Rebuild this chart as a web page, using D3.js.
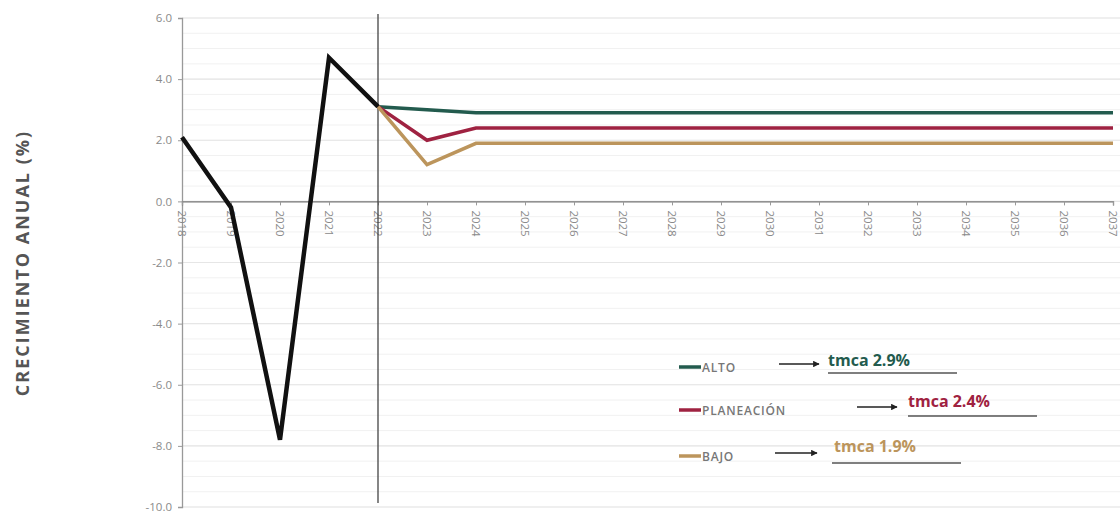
<!DOCTYPE html>
<html><head><meta charset="utf-8">
<script src="https://cdn.jsdelivr.net/npm/d3@7"></script>
<style>body{margin:0;background:#fff}svg{display:block}text{font-family:"Open Sans",Lato,sans-serif}</style>
</head><body><svg id="c" width="1120" height="513"></svg>
<script>
const years = ["2018","2019","2020","2021","2022","2023","2024","2025","2026","2027","2028","2029","2030","2031","2032","2033","2034","2035","2036","2037"];
const historico = [2.1, -0.2, -7.8, 4.7, 3.1];
const histYears = ["2018","2019","2020","2021","2022"];
const escYears = ["2022","2023","2024","2025","2026","2027","2028","2029","2030","2031","2032","2033","2034","2035","2036","2037"];
const alto = [3.1,3.0,2.9,2.9,2.9,2.9,2.9,2.9,2.9,2.9,2.9,2.9,2.9,2.9,2.9,2.9];
const planeacion = [3.1,2.0,2.4,2.4,2.4,2.4,2.4,2.4,2.4,2.4,2.4,2.4,2.4,2.4,2.4,2.4];
const bajo = [3.1,1.2,1.9,1.9,1.9,1.9,1.9,1.9,1.9,1.9,1.9,1.9,1.9,1.9,1.9,1.9];
const yTicks = [6,4,2,0,-2,-4,-6,-8,-10];
const legendNames = ["ALTO","PLANEACIÓN","BAJO"];
const legendTmca = ["tmca 2.9%","tmca 2.4%","tmca 1.9%"];
const colors = ["#235B4E","#9F2241","#BC955C"];

const svg = d3.select("#c");
const x = d3.scalePoint().domain(years).range([182,1113]);
const y = d3.scaleLinear().domain([-10,6]).range([507,18]);

// minor grid
const g = svg.append("g");
g.selectAll("line.minor").data(d3.range(-10,6.01,0.5)).join("line")
  .attr("x1",182).attr("x2",1120).attr("y1",d=>y(d)).attr("y2",d=>y(d))
  .attr("stroke","#f1f1f1").attr("stroke-width",1);
g.selectAll("line.major").data(yTicks).join("line")
  .attr("x1",182).attr("x2",1120).attr("y1",d=>y(d)).attr("y2",d=>y(d))
  .attr("stroke","#e6e6e6").attr("stroke-width",1.2);

// y axis
const fmt = d => d3.format(".1f")(d).replace("−","-");
const ya = svg.append("g").attr("transform","translate(182,0)")
  .call(d3.axisLeft(y).tickValues(yTicks).tickFormat(fmt).tickSize(4));
ya.select(".domain").attr("stroke","#999").attr("stroke-width",1.3);
ya.selectAll(".tick line").attr("stroke","#999");
ya.selectAll("text").attr("fill","#8a8a8a").attr("font-size",11.5).attr("x",-10);

// x axis at 0
const xa = svg.append("g").attr("transform",`translate(0,${y(0)})`)
  .call(d3.axisBottom(x).tickSize(4));
xa.select(".domain").attr("stroke","#777").attr("stroke-width",1.3);
xa.selectAll(".tick line").attr("stroke","#999");
xa.selectAll("text").attr("fill","#8a8a8a").attr("font-size",11.5)
  .attr("transform","rotate(90)").attr("x",9).attr("y",0).attr("dy","0.35em")
  .attr("text-anchor","start");

// vertical divider
svg.append("line").attr("x1",x("2022")).attr("x2",x("2022")).attr("y1",14).attr("y2",503)
  .attr("stroke","#444").attr("stroke-width",1.3);

const line = d3.line().x(d=>x(d[0])).y(d=>y(d[1]));
[alto,planeacion,bajo].forEach((s,i)=>{
  svg.append("path").datum(escYears.map((yr,j)=>[yr,s[j]]))
    .attr("d",line).attr("fill","none").attr("stroke",colors[i]).attr("stroke-width",3.5);
});
svg.append("path").datum(histYears.map((yr,j)=>[yr,historico[j]]))
  .attr("d",line).attr("fill","none").attr("stroke","#111").attr("stroke-width",4.5).attr("stroke-linejoin","miter");

// y title
svg.append("text").attr("transform","translate(29,263) rotate(-90)").attr("text-anchor","middle")
  .attr("font-size",18).attr("font-weight",700).attr("fill","#555").attr("letter-spacing",2)
  .text("CRECIMIENTO ANUAL (%)");

// legend
const legRows = [
  {y:367, ax1:779, ax2:819, tx:828, ty:366, ul:[828,957,373]},
  {y:410, ax1:857, ax2:897, tx:908, ty:407, ul:[908,1037,416]},
  {y:456, ax1:775, ax2:817, tx:834, ty:452, ul:[832,961,463]}
];
const defs = svg.append("defs");
defs.append("marker").attr("id","ah").attr("viewBox","0 0 10 10").attr("refX",9).attr("refY",5)
  .attr("markerWidth",5).attr("markerHeight",5).attr("orient","auto")
  .append("path").attr("d","M0,0L10,5L0,10z").attr("fill","#222");
legRows.forEach((r,i)=>{
  svg.append("line").attr("x1",679).attr("x2",701).attr("y1",r.y).attr("y2",r.y)
    .attr("stroke",colors[i]).attr("stroke-width",3.5);
  svg.append("text").attr("x",702).attr("y",r.y+4.5).attr("font-size",12).attr("font-weight",600)
    .attr("fill","#777").attr("letter-spacing",0.8).text(legendNames[i]);
  svg.append("line").attr("x1",r.ax1).attr("x2",r.ax2).attr("y1",r.y-3).attr("y2",r.y-3)
    .attr("stroke","#222").attr("stroke-width",1.3).attr("marker-end","url(#ah)");
  svg.append("text").attr("x",r.tx).attr("y",r.ty).attr("font-size",16).attr("font-weight",700)
    .attr("fill",colors[i]).text(legendTmca[i]);
  svg.append("line").attr("x1",r.ul[0]).attr("x2",r.ul[1]).attr("y1",r.ul[2]).attr("y2",r.ul[2])
    .attr("stroke","#555").attr("stroke-width",1.3);
});
</script></body></html>
